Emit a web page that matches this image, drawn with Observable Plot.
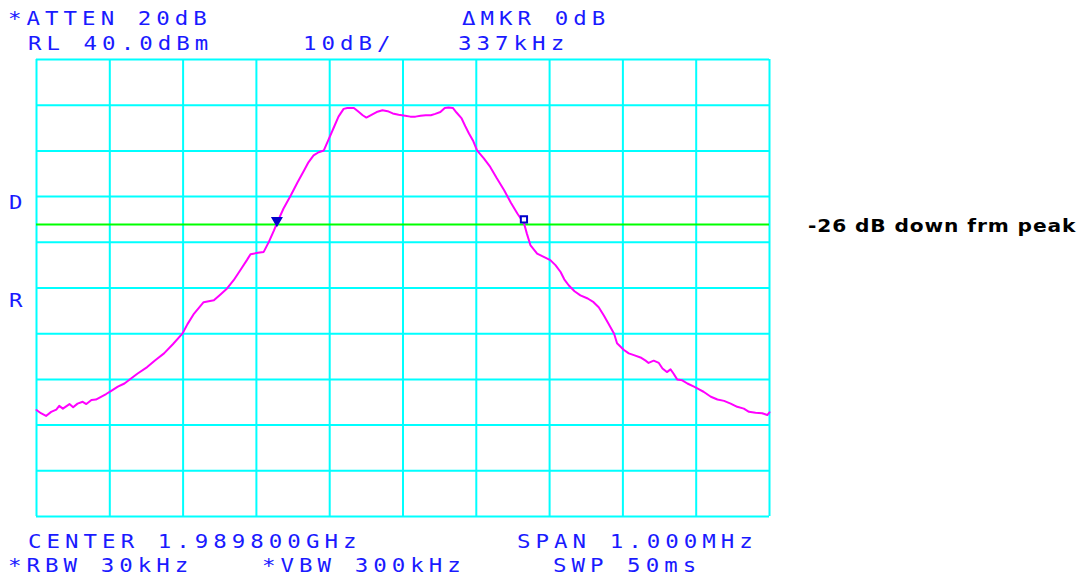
<!DOCTYPE html>
<html>
<head>
<meta charset="utf-8">
<script src="https://cdn.jsdelivr.net/npm/d3@7"></script>
<script src="https://cdn.jsdelivr.net/npm/@observablehq/plot@0.6"></script>
<style>
  html, body { margin: 0; padding: 0; background: #ffffff; }
  #wrap { position: relative; width: 1084px; height: 577px; overflow: hidden; background: #fff; }
  #wrap svg { position: absolute; left: 0; top: 0; }
  .t { position: absolute; font-family: "DejaVu Sans Mono", "Liberation Mono", monospace; font-size: 20px; line-height: 20px; letter-spacing: 4.5px; color: #1a1aff; white-space: pre; transform: scaleX(1.12); transform-origin: 0 0; }
  .lbl { position: absolute; font-family: "DejaVu Sans", sans-serif; font-weight: bold; font-size: 18px; line-height: 18px; letter-spacing: 0.8px; color: #000; white-space: pre; transform: scaleX(1.12); transform-origin: 0 0; }
</style>
</head>
<body>
<div id="wrap"></div>
<script>
// Frequency offset from center (kHz) and trace level (dBm)
const freqKHz = [-500,-494,-487,-480,-473,-469,-464,-455,-450,-444,-437,-432,-425,-419,-412,-405,-398,-389,-380,-371,-362,-349,-338,-326,-314,-301,-294,-285,-272,-258,-249,-240,-231,-222,-213,-208,-198,-190,-183,-176,-172,-163,-153,-144,-135,-129,-122,-115,-108,-101,-95,-88,-81,-76,-67,-61,-55,-50,-43,-36,-28,-21,-14,-6,3,10,17,24,31,38,44,51,57,62,68,73,80,85,90,96,101,110,119,128,138,147,156,165,169,174,183,192,201,208,215,220,226,234,242,252,260,267,274,280,288,292,301,308,315,324,331,335,342,349,354,360,365,369,374,381,388,397,404,410,420,429,438,447,456,465,472,481,490,497,500];
const levelDBm = [-36.7,-37.4,-38.0,-37.1,-36.6,-35.8,-36.4,-35.4,-36.1,-35.3,-34.9,-35.4,-34.5,-34.4,-33.8,-33.2,-32.5,-31.6,-30.9,-29.8,-28.7,-27.3,-25.8,-24.3,-22.3,-20.0,-17.9,-15.6,-13.1,-12.7,-11.4,-10.1,-8.3,-6.1,-3.9,-2.6,-2.3,-2.1,0.1,2.6,4.2,7.4,10.3,13.1,15.7,17.5,19.0,19.7,20.1,22.7,24.9,27.5,29.2,29.4,29.4,28.6,27.8,27.3,27.9,28.5,28.9,28.7,28.2,27.9,27.7,27.5,27.5,27.7,27.8,27.8,28.1,28.5,29.4,29.5,29.4,28.4,27.1,25.4,23.8,22.1,20.1,18.4,16.5,14.0,11.4,8.7,6.3,4.2,1.9,-0.7,-2.5,-3.2,-3.9,-5.0,-6.5,-8.1,-9.4,-10.7,-11.6,-12.3,-13.1,-14.2,-16.0,-17.7,-20.0,-22.1,-23.5,-24.3,-24.7,-25.2,-25.9,-26.4,-25.9,-26.4,-27.6,-28.4,-27.8,-28.7,-30.0,-30.2,-30.9,-31.6,-32.2,-32.7,-33.8,-34.4,-34.7,-35.3,-36.0,-36.4,-37.1,-37.3,-37.4,-37.8,-37.2];

// Grid: 10 divisions of 100 kHz, 10 divisions of 10 dB (RL 40 dBm)
const xGrid = [-500,-400,-300,-200,-100,0,100,200,300,400,500];
const yGrid = [40,30,20,10,0,-10,-20,-30,-40,-50,-60];
const displayLine = [3.9];

// Markers
const markerFreq = [-172, 165];
const markerLevel = [4.8, 5.0];
const markerSymbol = ["triangle", "circle"];

// Annotations
const topLine1 = [["*ATTEN 20dB", 8], ["\u0394MKR 0dB", 462]];
const topLine2 = [["RL 40.0dBm", 28], ["10dB/", 303], ["337kHz", 458]];
const botLine1 = [["CENTER 1.989800GHz", 28], ["SPAN 1.000MHz", 517]];
const botLine2 = [["*RBW 30kHz", 8], ["*VBW 300kHz", 262], ["SWP 50ms", 553]];
const sideLetters = [["D", 192], ["R", 290]];
const noteText = "-26 dB down frm peak";

const trace = freqKHz.map((f, i) => ({f, db: levelDBm[i]}));
const markers = markerFreq.map((f, i) => ({f, db: markerLevel[i], s: markerSymbol[i]}));

const chart = Plot.plot({
  width: 1084,
  height: 577,
  marginLeft: 36,
  marginRight: 315,
  marginTop: 59,
  marginBottom: 61,
  x: {domain: [-500, 500], axis: null},
  y: {domain: [-60, 40], axis: null},
  style: {background: "transparent"},
  marks: [
    Plot.ruleX(xGrid, {stroke: "#00ffff", strokeWidth: 2}),
    Plot.ruleY(yGrid, {stroke: "#00ffff", strokeWidth: 2}),
    Plot.ruleY(displayLine, {stroke: "#00ff00", strokeWidth: 2}),
    Plot.line(trace, {x: "f", y: "db", stroke: "#ff00ff", strokeWidth: 2}),
    Plot.dot(markers.filter(d => d.s === "triangle"), {x: "f", y: "db", symbol: "triangle", rotate: 180, r: 3.5, fill: "#0000cc", stroke: "#0000cc", strokeWidth: 1.5}),
    Plot.dot(markers.filter(d => d.s === "circle"), {x: "f", y: "db", symbol: "square", r: 3.5, fill: "#ffffff", stroke: "#0000cc", strokeWidth: 2})
  ]
});

const wrap = document.getElementById("wrap");
wrap.appendChild(chart);

function addText(txt, x, y, cls) {
  const d = document.createElement("div");
  d.className = cls;
  d.textContent = txt;
  d.style.left = x + "px";
  d.style.top = y + "px";
  wrap.appendChild(d);
}
topLine1.forEach(([t, x]) => addText(t, x, 8, "t"));
topLine2.forEach(([t, x]) => addText(t, x, 33, "t"));
botLine1.forEach(([t, x]) => addText(t, x, 531, "t"));
botLine2.forEach(([t, x]) => addText(t, x, 555, "t"));
sideLetters.forEach(([t, y]) => addText(t, 9, y, "t"));
addText(noteText, 808, 217, "lbl");
</script>
</body>
</html>
